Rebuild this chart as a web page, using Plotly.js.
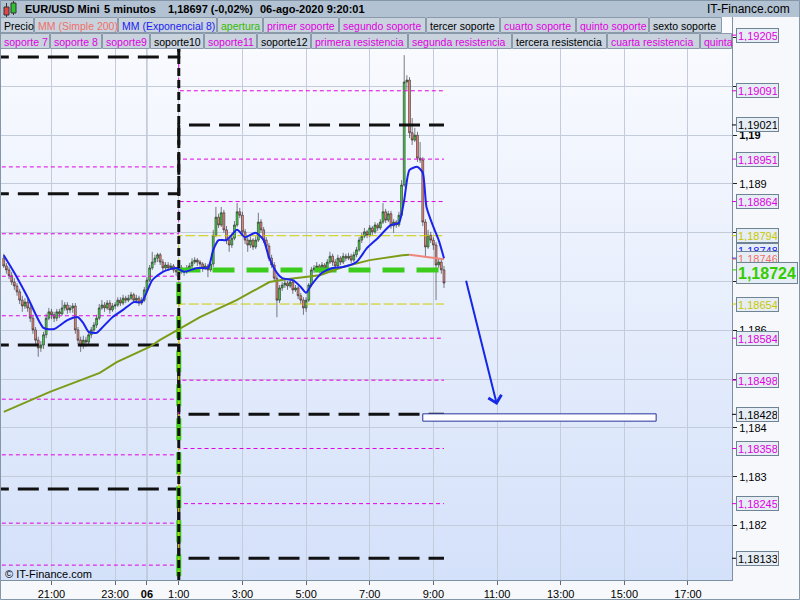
<!DOCTYPE html>
<html>
<head>
<meta charset="utf-8">
<script src="https://cdn.plot.ly/plotly-3.0.1.min.js"></script>
<style>
  html, body { margin: 0; padding: 0; background: #f5f7fa; }
  #chart { width: 800px; height: 600px; }
</style>
</head>
<body>
<div id="chart"></div>
<script>
// ---------- price bars (EUR/USD, 5-minute) ----------
const barStartUTC = Date.UTC(2020, 7, 5, 19, 30);
const barMinutes = 5;

const opens = [
  1.18748,1.18732,1.18724,1.18712,1.18699,1.18691,1.18679,1.18662,1.18650,1.18658,
  1.18646,1.18625,1.18601,1.18580,1.18564,1.18570,1.18591,1.18625,1.18638,1.18632,
  1.18625,1.18638,1.18634,1.18646,1.18652,1.18642,1.18646,1.18650,1.18601,1.18580,
  1.18568,1.18580,1.18576,1.18591,1.18601,1.18611,1.18625,1.18646,1.18652,1.18646,
  1.18656,1.18642,1.18650,1.18652,1.18662,1.18656,1.18666,1.18662,1.18666,1.18673,
  1.18662,1.18666,1.18656,1.18662,1.18683,1.18703,1.18728,1.18740,1.18748,1.18755,
  1.18740,1.18728,1.18734,1.18728,1.18732,1.18724,1.18720,1.18728,1.18724,1.18720,
  1.18728,1.18732,1.18740,1.18744,1.18740,1.18736,1.18728,1.18732,1.18724,1.18736,
  1.18795,1.18832,1.18816,1.18841,1.18806,1.18785,1.18775,1.18789,1.18816,1.18843,
  1.18836,1.18802,1.18785,1.18775,1.18785,1.18771,1.18785,1.18822,1.18806,1.18785,
  1.18773,1.18748,1.18734,1.18707,1.18662,1.18687,1.18693,1.18697,1.18691,1.18699,
  1.18683,1.18687,1.18671,1.18662,1.18646,1.18662,1.18693,1.18724,1.18728,1.18732,
  1.18724,1.18734,1.18728,1.18740,1.18752,1.18740,1.18732,1.18748,1.18740,1.18752,
  1.18748,1.18752,1.18744,1.18755,1.18765,1.18785,1.18793,1.18802,1.18795,1.18810,
  1.18802,1.18816,1.18810,1.18822,1.18843,1.18826,1.18839,1.18814,1.18822,1.18816,
  1.18836,1.18898,1.19109,1.19113,1.19005,1.18990,1.19000,1.18953,1.18949,1.18822,
  1.18771,1.18795,1.18785,1.18775,1.18734,1.18740,1.18724
];
const highs = [
  1.18757,1.18738,1.18730,1.18720,1.18707,1.18697,1.18685,1.18671,1.18666,1.18664,
  1.18652,1.18632,1.18607,1.18587,1.18578,1.18597,1.18634,1.18646,1.18644,1.18638,
  1.18644,1.18644,1.18662,1.18658,1.18658,1.18652,1.18656,1.18656,1.18607,1.18587,
  1.18589,1.18587,1.18597,1.18607,1.18617,1.18632,1.18654,1.18662,1.18658,1.18662,
  1.18662,1.18656,1.18658,1.18668,1.18668,1.18673,1.18671,1.18673,1.18679,1.18677,
  1.18673,1.18671,1.18668,1.18689,1.18709,1.18734,1.18761,1.18755,1.18759,1.18759,
  1.18746,1.18740,1.18740,1.18738,1.18736,1.18730,1.18734,1.18734,1.18728,1.18734,
  1.18738,1.18748,1.18750,1.18748,1.18744,1.18740,1.18738,1.18736,1.18740,1.18806,
  1.18853,1.18839,1.18853,1.18847,1.18814,1.18791,1.18798,1.18824,1.18861,1.18851,
  1.18843,1.18808,1.18791,1.18793,1.18789,1.18793,1.18841,1.18828,1.18812,1.18791,
  1.18779,1.18755,1.18740,1.18714,1.18693,1.18699,1.18703,1.18701,1.18705,1.18703,
  1.18693,1.18691,1.18677,1.18668,1.18668,1.18697,1.18730,1.18734,1.18740,1.18736,
  1.18740,1.18738,1.18746,1.18761,1.18757,1.18746,1.18755,1.18752,1.18759,1.18757,
  1.18759,1.18757,1.18761,1.18771,1.18791,1.18800,1.18810,1.18806,1.18816,1.18814,
  1.18822,1.18820,1.18828,1.18861,1.18849,1.18845,1.18845,1.18828,1.18826,1.18843,
  1.18908,1.19164,1.19123,1.19119,1.19035,1.19015,1.19007,1.18986,1.18955,1.18828,
  1.18806,1.18802,1.18791,1.18781,1.18748,1.18746,1.18732
];
const lows = [
  1.18728,1.18716,1.18705,1.18693,1.18683,1.18671,1.18654,1.18638,1.18644,1.18638,
  1.18617,1.18593,1.18568,1.18546,1.18556,1.18562,1.18584,1.18621,1.18623,1.18617,
  1.18619,1.18625,1.18630,1.18640,1.18634,1.18636,1.18636,1.18593,1.18572,1.18556,
  1.18562,1.18566,1.18570,1.18584,1.18595,1.18605,1.18621,1.18642,1.18638,1.18642,
  1.18634,1.18638,1.18644,1.18648,1.18650,1.18652,1.18656,1.18658,1.18662,1.18656,
  1.18658,1.18650,1.18652,1.18658,1.18679,1.18699,1.18724,1.18734,1.18740,1.18734,
  1.18722,1.18724,1.18722,1.18724,1.18718,1.18712,1.18716,1.18716,1.18712,1.18716,
  1.18724,1.18728,1.18736,1.18732,1.18728,1.18720,1.18724,1.18709,1.18720,1.18730,
  1.18791,1.18810,1.18812,1.18800,1.18777,1.18761,1.18769,1.18785,1.18812,1.18830,
  1.18795,1.18777,1.18761,1.18769,1.18765,1.18767,1.18781,1.18800,1.18779,1.18767,
  1.18742,1.18728,1.18701,1.18627,1.18656,1.18681,1.18687,1.18683,1.18687,1.18675,
  1.18679,1.18664,1.18654,1.18632,1.18638,1.18658,1.18689,1.18718,1.18724,1.18718,
  1.18720,1.18722,1.18724,1.18736,1.18732,1.18726,1.18728,1.18734,1.18736,1.18742,
  1.18744,1.18738,1.18740,1.18750,1.18761,1.18779,1.18789,1.18789,1.18791,1.18795,
  1.18798,1.18804,1.18806,1.18818,1.18820,1.18822,1.18808,1.18800,1.18810,1.18812,
  1.18832,1.18894,1.19093,1.18994,1.18980,1.18986,1.18945,1.18943,1.18814,1.18750,
  1.18767,1.18779,1.18765,1.18662,1.18728,1.18716,1.18687
];
const closes = [
  1.18732,1.18724,1.18712,1.18699,1.18691,1.18679,1.18662,1.18650,1.18658,1.18646,
  1.18625,1.18601,1.18580,1.18564,1.18570,1.18591,1.18625,1.18638,1.18632,1.18625,
  1.18638,1.18634,1.18646,1.18652,1.18642,1.18646,1.18650,1.18601,1.18580,1.18568,
  1.18580,1.18576,1.18591,1.18601,1.18611,1.18625,1.18646,1.18652,1.18646,1.18656,
  1.18642,1.18650,1.18652,1.18662,1.18656,1.18666,1.18662,1.18666,1.18673,1.18662,
  1.18666,1.18656,1.18662,1.18683,1.18703,1.18728,1.18740,1.18748,1.18755,1.18740,
  1.18728,1.18734,1.18728,1.18732,1.18724,1.18720,1.18728,1.18724,1.18720,1.18728,
  1.18732,1.18740,1.18744,1.18740,1.18736,1.18728,1.18732,1.18724,1.18736,1.18795,
  1.18832,1.18816,1.18841,1.18806,1.18785,1.18775,1.18789,1.18816,1.18843,1.18836,
  1.18802,1.18785,1.18775,1.18785,1.18771,1.18785,1.18822,1.18806,1.18785,1.18773,
  1.18748,1.18734,1.18707,1.18662,1.18687,1.18693,1.18697,1.18691,1.18699,1.18683,
  1.18687,1.18671,1.18662,1.18646,1.18662,1.18693,1.18724,1.18728,1.18732,1.18724,
  1.18734,1.18728,1.18740,1.18752,1.18740,1.18732,1.18748,1.18740,1.18752,1.18748,
  1.18752,1.18744,1.18755,1.18765,1.18785,1.18793,1.18802,1.18795,1.18810,1.18802,
  1.18816,1.18810,1.18822,1.18843,1.18826,1.18839,1.18814,1.18822,1.18816,1.18836,
  1.18898,1.19109,1.19113,1.19005,1.18990,1.19000,1.18953,1.18949,1.18822,1.18771,
  1.18795,1.18785,1.18775,1.18734,1.18740,1.18724,1.18697
];

// ---------- moving averages ----------
const ma200Times = ['2020-08-05 19:30','2020-08-05 20:57','2020-08-05 22:31','2020-08-05 23:03',
  '2020-08-06 00:05','2020-08-06 00:24','2020-08-06 00:58','2020-08-06 01:40','2020-08-06 02:49',
  '2020-08-06 03:51','2020-08-06 04:23','2020-08-06 05:26','2020-08-06 06:09','2020-08-06 07:00',
  '2020-08-06 08:02','2020-08-06 08:15'];
const ma200Vals = [1.18433,1.18474,1.18513,1.18535,1.18566,1.18580,1.18601,1.18627,1.18662,
  1.18699,1.18705,1.18713,1.18730,1.18744,1.18754,1.18755];
const ma200FallTimes = ['2020-08-06 08:15','2020-08-06 08:53','2020-08-06 09:20'];
const ma200FallVals = [1.18755,1.18750,1.18746];

const ema8Times = ['2020-08-05 19:30','2020-08-05 19:50','2020-08-05 20:15','2020-08-05 20:45',
  '2020-08-05 21:05','2020-08-05 21:30','2020-08-05 21:50','2020-08-05 22:00','2020-08-05 22:10',
  '2020-08-05 22:25','2020-08-05 22:35','2020-08-05 22:55','2020-08-05 23:15','2020-08-05 23:35',
  '2020-08-05 23:50','2020-08-06 00:10','2020-08-06 00:30','2020-08-06 00:55','2020-08-06 01:10',
  '2020-08-06 01:35','2020-08-06 01:55','2020-08-06 02:05','2020-08-06 02:15','2020-08-06 02:30',
  '2020-08-06 02:50','2020-08-06 03:05','2020-08-06 03:25','2020-08-06 03:40','2020-08-06 03:50',
  '2020-08-06 04:05','2020-08-06 04:15','2020-08-06 04:35','2020-08-06 04:50','2020-08-06 05:00',
  '2020-08-06 05:10','2020-08-06 05:30','2020-08-06 05:50','2020-08-06 06:10','2020-08-06 06:35',
  '2020-08-06 06:55','2020-08-06 07:15','2020-08-06 07:40','2020-08-06 07:55','2020-08-06 08:05',
  '2020-08-06 08:15','2020-08-06 08:30','2020-08-06 08:40','2020-08-06 08:47','2020-08-06 09:00',
  '2020-08-06 09:10','2020-08-06 09:20'];
const ema8Vals = [1.18754,1.18718,1.18668,1.18605,1.18603,1.18621,1.18627,1.18615,1.18597,
  1.18595,1.18605,1.18627,1.18642,1.18658,1.18658,1.18703,1.18720,1.18728,1.18720,1.18728,
  1.18728,1.18765,1.18785,1.18785,1.18806,1.18791,1.18800,1.18785,1.18750,1.18718,1.18707,
  1.18703,1.18689,1.18677,1.18693,1.18718,1.18728,1.18730,1.18740,1.18769,1.18789,1.18816,
  1.18820,1.18867,1.18929,1.18935,1.18923,1.18853,1.18812,1.18785,1.18748];

// ---------- support / resistance levels (previous session -> current session) ----------
const levelFrom = '2020-08-05 19:00';
const levelSwitch = '2020-08-06 01:00';
const levelTo = '2020-08-06 09:20';
const levelNames = ['primer soporte','segundo soporte','tercer soporte','cuarto soporte',
  'quinto soporte','sexto soporte','soporte 7','soporte 8','primera resistencia',
  'segunda resistencia','tercera resistencia','cuarta resistencia','quinta resistencia',
  'sexta resistencia','apertura','rango alto','rango bajo'];
const levelPrev = [1.18711,1.18630,1.18570,1.18459,1.18345,1.18275,1.18205,1.18119,
  1.18798,1.18935,1.18880,1.19300,1.19450,1.19160,1.18000,1.18000,1.18000];
const levelCurr = [1.18584,1.18498,1.18428,1.18358,1.18245,1.18133,1.18020,1.17950,
  1.18864,1.18951,1.19021,1.19091,1.19205,1.19320,1.18724,1.18794,1.18654];
const levelKind = ['m','m','k','m','m','k','m','m','m','m','k','m','m','k','g','y','y'];

// price tags on the right scale
const tagVals = [1.19205,1.19091,1.19021,1.18951,1.18864,1.18794,1.18748,1.18746,1.18724,
  1.18654,1.18584,1.18498,1.18428,1.18358,1.18245,1.18133];
const tagKind = ['m','m','k','m','m','y','b','s','g','y','m','m','k','m','m','k'];

// drawn objects: projected move and target zone
const arrowTail = ['2020-08-06 10:01', 1.18705];
const arrowTip = ['2020-08-06 11:00', 1.18447];
const zoneX = ['2020-08-06 08:40', '2020-08-06 16:00'];
const zoneY = [1.18414, 1.18429];

// axes
const xRange = ['2020-08-05 19:24:50', '2020-08-06 18:23:00'];
const yRange = [1.180885, 1.192422];
const xTickVals = ['2020-08-05 21:00','2020-08-05 23:00','2020-08-06 00:00','2020-08-06 01:00',
  '2020-08-06 03:00','2020-08-06 05:00','2020-08-06 07:00','2020-08-06 09:00','2020-08-06 11:00',
  '2020-08-06 13:00','2020-08-06 15:00','2020-08-06 17:00'];
const xTickText = ['21:00','23:00','<b>06</b>','1:00','3:00','5:00','7:00','9:00','11:00','13:00','15:00','17:00'];
const yTickVals = [1.182,1.183,1.184,1.185,1.186,1.187,1.188,1.189,1.19,1.191,1.192];
const yTickText = ['1,182','1,183','1,184','','1,186','','','1,189','<b>1,19</b>','',''];

// ---------- styling ----------
const FONT = 'Liberation Sans, Arial, sans-serif';
const MAG = '#e000e0', BLK = '#111111', YEL = '#cccc00', GRN = '#3ccc1c';
const kindLine = {
  m: {color: MAG, width: 1, dash: '4px,3px'},
  k: {color: BLK, width: 3, dash: '21px,9px'},
  g: {color: GRN, width: 5, dash: '22px,12px'},
  y: {color: YEL, width: 1, dash: '10px,3px'}
};
const tagColor = {m: MAG, k: '#000000', y: '#c8c800', b: '#1020f0', s: '#f07068', g: '#33cc00'};

const W = 800, H = 600;
const M = {l: 1, r: 68, t: 17, b: 20};
const PW = W - M.l - M.r, PH = H - M.t - M.b;
const px = x => (x - M.l) / PW;
const py = y => (H - M.b - y) / PH;

const barTimes = opens.map((_, i) => barStartUTC + i * barMinutes * 60000);

const traces = [];
levelNames.forEach((name, i) => {
  traces.push({
    type: 'scatter', mode: 'lines', name: name,
    x: [levelFrom, levelSwitch, levelSwitch, levelTo],
    y: [levelPrev[i], levelPrev[i], levelCurr[i], levelCurr[i]],
    line: kindLine[levelKind[i]], hoverinfo: 'skip', showlegend: false
  });
});
traces.push({type: 'scatter', mode: 'lines', name: 'MM (Simple 200)', x: ma200Times, y: ma200Vals,
  line: {color: '#7c9c18', width: 2}, hoverinfo: 'skip', showlegend: false});
traces.push({type: 'scatter', mode: 'lines', name: 'MM (Simple 200)', x: ma200FallTimes, y: ma200FallVals,
  line: {color: '#f0857c', width: 2}, hoverinfo: 'skip', showlegend: false});
traces.push({
  type: 'candlestick', name: 'Precio', x: barTimes,
  open: opens, high: highs, low: lows, close: closes,
  increasing: {line: {color: '#262626', width: 0.6}, fillcolor: '#40d840'},
  decreasing: {line: {color: '#262626', width: 0.6}, fillcolor: '#f4887e'},
  whiskerwidth: 0, hoverinfo: 'skip', showlegend: false
});
traces.push({type: 'scatter', mode: 'lines', name: 'MM (Exponencial 8)', x: ema8Times, y: ema8Vals,
  line: {color: '#1a22ee', width: 2, shape: 'spline', smoothing: 0.6}, hoverinfo: 'skip', showlegend: false});

// ---------- frame, header and legend ----------
const shapes = [];
const annotations = [];

// session separator
shapes.push({type: 'line', xref: 'x', yref: 'paper', x0: levelSwitch, x1: levelSwitch, y0: 0, y1: 1,
  line: {color: '#111', width: 3, dash: '8px,4px'}, layer: 'above'});
// midnight gridline is a bit darker
shapes.push({type: 'line', xref: 'x', yref: 'paper', x0: xTickVals[2], x1: xTickVals[2], y0: 0, y1: 1,
  line: {color: '#a7b0c2', width: 1}, layer: 'below'});

// target zone
shapes.push({type: 'rect', xref: 'x', yref: 'y', x0: zoneX[0], x1: zoneX[1], y0: zoneY[0], y1: zoneY[1],
  line: {color: '#26349a', width: 1}, fillcolor: '#fdfdff', layer: 'above'});

// header bar
shapes.push({type: 'rect', xref: 'paper', yref: 'paper', x0: px(0), x1: px(800), y0: py(0), y1: py(17),
  fillcolor: '#b2c2d2', line: {width: 0}, layer: 'above'});
// header icon
shapes.push({type: 'line', xref: 'paper', yref: 'paper', x0: px(6.5), x1: px(6.5), y0: py(3), y1: py(17),
  line: {color: '#333', width: 1}, layer: 'above'});
shapes.push({type: 'rect', xref: 'paper', yref: 'paper', x0: px(4), x1: px(9), y0: py(7), y1: py(15),
  fillcolor: '#e04848', line: {color: '#333', width: 1}, layer: 'above'});
shapes.push({type: 'line', xref: 'paper', yref: 'paper', x0: px(13.5), x1: px(13.5), y0: py(1), y1: py(15),
  line: {color: '#333', width: 1}, layer: 'above'});
shapes.push({type: 'rect', xref: 'paper', yref: 'paper', x0: px(11), x1: px(16), y0: py(3), y1: py(13),
  fillcolor: '#30c030', line: {color: '#333', width: 1}, layer: 'above'});

const headerParts = [['EUR/USD Mini', 23], ['5 minutos', 102], ['1,18697 (-0,02%)', 166], ['06-ago-2020 9:20:01', 258]];
headerParts.forEach(([t, x]) => annotations.push({
  xref: 'paper', yref: 'paper', x: px(x), y: py(9), xanchor: 'left', yanchor: 'middle',
  text: '<b>' + t + '</b>', showarrow: false, font: {family: FONT, size: 11, color: '#000'}
}));
annotations.push({xref: 'paper', yref: 'paper', x: px(792), y: py(9), xanchor: 'right', yanchor: 'middle',
  text: 'IT-Finance.com', showarrow: false, font: {family: FONT, size: 12, color: '#000'}});

// legend cells: [label, left, right, color]
const legendRows = [
  [['Precio', 0, 34, '#000'], ['MM (Simple 200)', 34, 118, '#f07068'], ['MM (Exponencial 8)', 118, 217, '#1c1cf0'],
   ['apertura', 217, 263, '#33bb00'], ['primer soporte', 263, 339, MAG], ['segundo soporte', 339, 426, MAG],
   ['tercer soporte', 426, 500, '#000'], ['cuarto soporte', 500, 576, MAG], ['quinto soporte', 576, 649, MAG],
   ['sexto soporte', 649, 722, '#000']],
  [['soporte 7', 0, 50, MAG], ['soporte 8', 50, 102, MAG], ['soporte9', 102, 150, MAG], ['soporte10', 150, 204, '#000'],
   ['soporte11', 204, 257, MAG], ['soporte12', 257, 311, '#000'], ['primera resistencia', 311, 408, MAG],
   ['segunda resistencia', 408, 512, MAG], ['tercera resistencia', 512, 607, '#000'],
   ['cuarta resistencia', 607, 700, MAG], ['quinta', 700, 732, MAG]]
];
legendRows.forEach((row, r) => {
  const top = 17 + r * 16, bot = top + 16;
  row.forEach(([t, a, b, c]) => {
    shapes.push({type: 'rect', xref: 'paper', yref: 'paper', x0: px(a + 0.5), x1: px(b - 0.5), y0: py(bot - 0.5), y1: py(top + 0.5),
      fillcolor: '#c8d3de', line: {color: '#8a9aab', width: 1}, layer: 'above'});
    annotations.push({xref: 'paper', yref: 'paper', x: px(a + 2), y: py(top + 8.5), xanchor: 'left', yanchor: 'middle',
      text: t, showarrow: false, font: {family: FONT, size: 10.5, color: c}});
  });
});

// price tags on the right scale
const tagShift = {b: 8, s: 1, g: -3};
tagVals.forEach((v, i) => {
  const k = tagKind[i];
  const big = k === 'g';
  shapes.push({type: 'line', xref: 'paper', yref: 'y', x0: 1, x1: px(736), y0: v, y1: v,
    line: {color: tagColor[k], width: 1}, layer: 'above'});
  annotations.push({
    xref: 'paper', yref: 'y', x: px(736), y: v, xanchor: 'left', yanchor: 'middle',
    yshift: tagShift[k] || 0,
    text: big ? '<b>' + v.toFixed(5).replace('.', ',') + '</b>' : v.toFixed(5).replace('.', ','),
    showarrow: false, bgcolor: '#e6edf5', bordercolor: '#6e8394', borderwidth: 1, borderpad: 1,
    width: big ? 58 : 39, height: big ? 18 : 11, align: 'left',
    font: {family: FONT, size: big ? 16 : 11, color: tagColor[k]}
  });
});

// projected move arrow
annotations.push({xref: 'x', yref: 'y', axref: 'x', ayref: 'y', x: arrowTip[0], y: arrowTip[1],
  ax: arrowTail[0], ay: arrowTail[1], text: '', showarrow: true, arrowhead: 4, arrowsize: 1.3,
  arrowwidth: 2, arrowcolor: '#1428e6'});

// copyright
annotations.push({xref: 'paper', yref: 'paper', x: px(3), y: py(574), xanchor: 'left', yanchor: 'middle',
  text: '© IT-Finance.com', showarrow: false, font: {family: FONT, size: 11, color: '#000'}});

// outer border
shapes.push({type: 'rect', xref: 'paper', yref: 'paper', x0: px(0.5), x1: px(799.5), y0: py(599.5), y1: py(0.5),
  line: {color: '#8497a9', width: 1}, layer: 'above'});

// plot background gradient
const bgSvg = "<svg xmlns='http://www.w3.org/2000/svg' width='10' height='100' preserveAspectRatio='none'>" +
  "<defs><linearGradient id='g' x1='0' y1='0' x2='0' y2='1'><stop offset='0' stop-color='#fbfcff'/>" +
  "<stop offset='1' stop-color='#d4e1fa'/></linearGradient></defs><rect width='10' height='100' fill='url(#g)'/></svg>";

const layout = {
  width: W, height: H,
  margin: M,
  paper_bgcolor: '#f6f8fb',
  plot_bgcolor: '#e8eefb',
  separators: ',.',
  showlegend: false,
  dragmode: false,
  boxgap: 0,
  font: {family: FONT, size: 11, color: '#000'},
  images: [{source: 'data:image/svg+xml;base64,' + btoa(bgSvg), xref: 'paper', yref: 'paper',
    x: 0, y: 1, sizex: 1, sizey: 1, xanchor: 'left', yanchor: 'top', sizing: 'stretch', layer: 'below'}],
  xaxis: {
    type: 'date', range: xRange, tickvals: xTickVals, ticktext: xTickText,
    ticks: 'outside', ticklen: 4, tickcolor: '#667', showgrid: true, gridcolor: '#c4ccdb', gridwidth: 1,
    showline: true, linecolor: '#7d90a2', linewidth: 1, zeroline: false,
    tickfont: {family: FONT, size: 11, color: '#000'}, rangeslider: {visible: false}, fixedrange: true
  },
  yaxis: {
    side: 'right', range: yRange, tickvals: yTickVals, ticktext: yTickText,
    ticks: 'outside', ticklen: 4, tickcolor: '#222', showgrid: true, gridcolor: '#c4ccdb', gridwidth: 1,
    showline: true, linecolor: '#7d90a2', linewidth: 1, zeroline: false,
    tickfont: {family: FONT, size: 11, color: '#000'}, fixedrange: true
  },
  shapes: shapes,
  annotations: annotations
};

Plotly.newPlot('chart', traces, layout, {staticPlot: true, displayModeBar: false});
</script>
</body>
</html>
